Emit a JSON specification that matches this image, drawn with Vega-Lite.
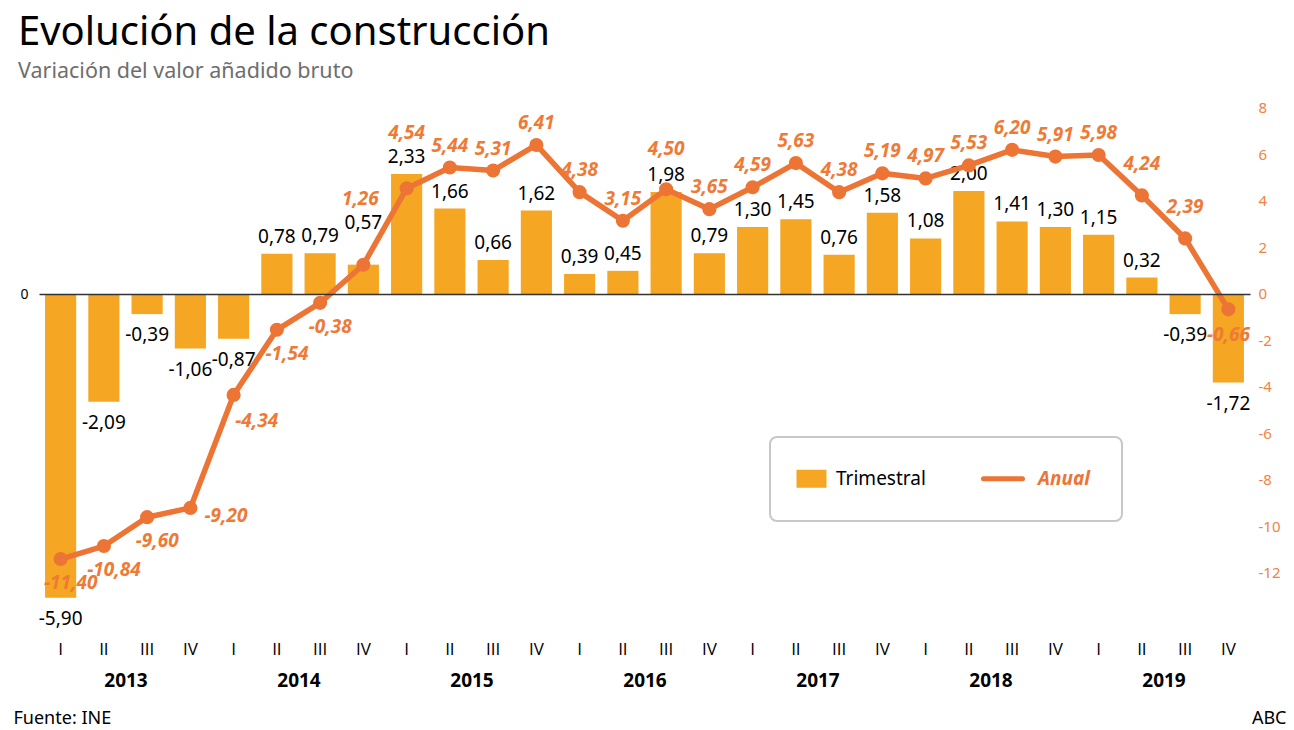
{
  "$schema": "https://vega.github.io/schema/vega-lite/v6.json",
  "width": 1211,
  "height": 535,
  "autosize": {"type": "none"},
  "padding": {"left": 39, "top": 96, "right": 44, "bottom": 99},
  "background": "white",
  "config": {
    "font": "Noto Sans",
    "axis": {"labelFont": "Noto Sans", "titleFont": "Noto Sans"},
    "legend": {"labelFont": "Noto Sans"},
    "view": {"stroke": null},
    "locale": {"number": {"decimal": ",", "thousands": ".", "grouping": [3], "currency": ["", " €"], "minus": "-"}}
  },
  "title": {
    "text": "Evolución de la construcción",
    "subtitle": "Variación del valor añadido bruto",
    "anchor": "start",
    "frame": "group",
    "dx": -21,
    "offset": 14,
    "font": "Noto Sans",
    "subtitleFont": "Noto Sans",
    "fontSize": 40,
    "fontWeight": "normal",
    "color": "#000000",
    "subtitleFontSize": 21.5,
    "subtitleColor": "#6E6E6E",
    "subtitlePadding": 8
  },
  "data": {
    "values": [
      {"periodo": "2013 I", "anio": "2013", "trimestral": -5.90, "anual": -11.40},
      {"periodo": "2013 II", "anio": "2013", "trimestral": -2.09, "anual": -10.84},
      {"periodo": "2013 III", "anio": "2013", "trimestral": -0.39, "anual": -9.60},
      {"periodo": "2013 IV", "anio": "2013", "trimestral": -1.06, "anual": -9.20},
      {"periodo": "2014 I", "anio": "2014", "trimestral": -0.87, "anual": -4.34},
      {"periodo": "2014 II", "anio": "2014", "trimestral": 0.78, "anual": -1.54},
      {"periodo": "2014 III", "anio": "2014", "trimestral": 0.79, "anual": -0.38},
      {"periodo": "2014 IV", "anio": "2014", "trimestral": 0.57, "anual": 1.26},
      {"periodo": "2015 I", "anio": "2015", "trimestral": 2.33, "anual": 4.54},
      {"periodo": "2015 II", "anio": "2015", "trimestral": 1.66, "anual": 5.44},
      {"periodo": "2015 III", "anio": "2015", "trimestral": 0.66, "anual": 5.31},
      {"periodo": "2015 IV", "anio": "2015", "trimestral": 1.62, "anual": 6.41},
      {"periodo": "2016 I", "anio": "2016", "trimestral": 0.39, "anual": 4.38},
      {"periodo": "2016 II", "anio": "2016", "trimestral": 0.45, "anual": 3.15},
      {"periodo": "2016 III", "anio": "2016", "trimestral": 1.98, "anual": 4.50},
      {"periodo": "2016 IV", "anio": "2016", "trimestral": 0.79, "anual": 3.65},
      {"periodo": "2017 I", "anio": "2017", "trimestral": 1.30, "anual": 4.59},
      {"periodo": "2017 II", "anio": "2017", "trimestral": 1.45, "anual": 5.63},
      {"periodo": "2017 III", "anio": "2017", "trimestral": 0.76, "anual": 4.38},
      {"periodo": "2017 IV", "anio": "2017", "trimestral": 1.58, "anual": 5.19},
      {"periodo": "2018 I", "anio": "2018", "trimestral": 1.08, "anual": 4.97},
      {"periodo": "2018 II", "anio": "2018", "trimestral": 2.00, "anual": 5.53},
      {"periodo": "2018 III", "anio": "2018", "trimestral": 1.41, "anual": 6.20},
      {"periodo": "2018 IV", "anio": "2018", "trimestral": 1.30, "anual": 5.91},
      {"periodo": "2019 I", "anio": "2019", "trimestral": 1.15, "anual": 5.98},
      {"periodo": "2019 II", "anio": "2019", "trimestral": 0.32, "anual": 4.24},
      {"periodo": "2019 III", "anio": "2019", "trimestral": -0.39, "anual": 2.39},
      {"periodo": "2019 IV", "anio": "2019", "trimestral": -1.72, "anual": -0.66}
    ]
  },
  "layer": [
    {
      "encoding": {
        "x": {
          "field": "periodo", "type": "ordinal", "sort": null,
          "scale": {"paddingInner": 0.28, "paddingOuter": 0.14},
          "axis": {
            "orient": "bottom", "domain": false, "ticks": false, "tickSize": 0,
            "labelExpr": "split(datum.label, ' ')[1]",
            "labelFont": "Open Sans",
            "labelFontSize": 17, "labelPadding": 10, "labelColor": "#000000",
            "labelAngle": 0, "title": null
          }
        }
      },
      "layer": [
        {
          "encoding": {
            "y": {
              "field": "trimestral", "type": "quantitative",
              "scale": {"domain": [-6.544, 3.845], "nice": false, "zero": false},
              "axis": {
                "orient": "left", "values": [0], "domain": false, "ticks": false,
                "grid": true, "gridColor": "#333333", "gridWidth": 1.5, "zindex": 1,
                "labelFont": "Noto Sans",
                "labelFontSize": 14, "labelPadding": 11, "labelColor": "#000000",
                "title": "Fuente: INE", "titleAngle": 0, "titleX": -26, "titleY": 627,
                "titleAlign": "left", "titleBaseline": "alphabetic", "titleFont": "Noto Sans",
                "titleFontSize": 18, "titleFontWeight": "normal", "titleColor": "#000000"
              }
            }
          },
          "layer": [
            {
              "mark": {"type": "bar"},
              "encoding": {
                "color": {
                  "datum": "Trimestral", "type": "nominal",
                  "scale": {"domain": ["Trimestral", "Anual"], "range": ["#F5A623", "#EC7435"]},
                  "legend": {
                    "orient": "none", "legendX": 731, "legendY": 341,
                    "direction": "horizontal", "columns": 2, "title": null,
                    "symbolSize": 400, "labelFontSize": 19, "labelOffset": 15,
                    "columnPadding": 47, "padding": 32,
                    "fillColor": "#FFFFFF", "strokeColor": "#C8C8C8", "cornerRadius": 7,
                    "labelColor": "#000000",
                    "encode": {
                      "symbols": {"update": {
                        "shape": {"signal": "datum.value === 'Anual' ? 'M-2,0H0.6' : 'M-1,-0.6H1V0.6H-1Z'"},
                        "size": {"value": 900},
                        "fill": {"signal": "datum.value === 'Anual' ? 'transparent' : '#F5A623'"},
                        "stroke": {"signal": "datum.value === 'Anual' ? '#EC7435' : 'transparent'"},
                        "strokeWidth": {"signal": "datum.value === 'Anual' ? 5 : 0"},
                        "strokeCap": {"value": "round"},
                        "opacity": {"value": 1}
                      }},
                      "labels": {"update": {
                        "fill": {"signal": "datum.value === 'Anual' ? '#EC7435' : '#000000'"},
                        "fontStyle": {"signal": "datum.value === 'Anual' ? 'italic' : 'normal'"},
                        "fontWeight": {"signal": "datum.value === 'Anual' ? 'bold' : 'normal'"}
                      }},
                      "legend": {"update": {"strokeWidth": {"value": 2}}}
                    }
                  }
                }
              }
            },
            {
              "transform": [{"filter": "datum.trimestral > 0 && datum.periodo !== '2014 IV'"}],
              "mark": {"type": "text", "fontSize": 19, "color": "#000000", "baseline": "middle", "dy": -17},
              "encoding": {"text": {"field": "trimestral", "type": "quantitative", "format": ".2f"}}
            },
            {
              "transform": [{"filter": "datum.periodo === '2014 IV'"}],
              "mark": {"type": "text", "fontSize": 19, "color": "#000000", "baseline": "middle", "dy": -42},
              "encoding": {"text": {"field": "trimestral", "type": "quantitative", "format": ".2f"}}
            },
            {
              "transform": [{"filter": "datum.trimestral < 0"}],
              "mark": {"type": "text", "fontSize": 19, "color": "#000000", "baseline": "middle", "dy": 21},
              "encoding": {"text": {"field": "trimestral", "type": "quantitative", "format": ".2f"}}
            }
          ]
        },
        {
          "encoding": {
            "y": {
              "field": "anual", "type": "quantitative",
              "scale": {"domain": [-14.495, 8.516], "nice": false, "zero": false},
              "axis": {
                "orient": "right", "values": [-12, -10, -8, -6, -4, -2, 0, 2, 4, 6, 8],
                "domain": false, "ticks": false, "grid": false, "format": "d",
                "labelFont": "Noto Sans",
                "labelColor": "#EF8345", "labelFontSize": 15, "labelAlign": "left", "labelPadding": 8,
                "title": "ABC", "titleAngle": 0, "titleX": 36, "titleY": 627,
                "titleAlign": "right", "titleBaseline": "alphabetic", "titleFont": "Noto Sans",
                "titleFontSize": 18, "titleFontWeight": "normal", "titleColor": "#000000"
              }
            }
          },
          "layer": [
            {
              "mark": {"type": "line", "strokeWidth": 5.5, "strokeJoin": "round"},
              "encoding": {"color": {"datum": "Anual", "type": "nominal"}}
            },
            {
              "mark": {"type": "circle", "size": 200, "opacity": 1, "color": "#EC7435"}
            },
            {
              "transform": [{"filter": {"field": "periodo", "oneOf": ["2015 II", "2015 III", "2015 IV", "2016 I", "2016 II", "2016 IV", "2017 I", "2017 II", "2017 III", "2017 IV", "2018 I", "2018 II", "2018 III", "2018 IV", "2019 I"]}}],
              "mark": {"type": "text", "fontSize": 19, "fontWeight": "bold", "fontStyle": "italic", "color": "#EE7A35", "baseline": "middle", "dy": -22},
              "encoding": {"text": {"field": "anual", "type": "quantitative", "format": ".2f"}}
            },
            {
              "transform": [{"filter": {"field": "periodo", "oneOf": ["2019 II", "2019 III"]}}],
              "mark": {"type": "text", "fontSize": 19, "fontWeight": "bold", "fontStyle": "italic", "color": "#EE7A35", "baseline": "middle", "dy": -31},
              "encoding": {"text": {"field": "anual", "type": "quantitative", "format": ".2f"}}
            },
            {
              "transform": [{"filter": {"field": "periodo", "oneOf": ["2016 III"]}}],
              "mark": {"type": "text", "fontSize": 19, "fontWeight": "bold", "fontStyle": "italic", "color": "#EE7A35", "baseline": "middle", "dy": -40},
              "encoding": {"text": {"field": "anual", "type": "quantitative", "format": ".2f"}}
            },
            {
              "transform": [{"filter": {"field": "periodo", "oneOf": ["2015 I"]}}],
              "mark": {"type": "text", "fontSize": 19, "fontWeight": "bold", "fontStyle": "italic", "color": "#EE7A35", "baseline": "middle", "dy": -55},
              "encoding": {"text": {"field": "anual", "type": "quantitative", "format": ".2f"}}
            },
            {
              "transform": [{"filter": {"field": "periodo", "oneOf": ["2014 IV"]}}],
              "mark": {"type": "text", "fontSize": 19, "fontWeight": "bold", "fontStyle": "italic", "color": "#EE7A35", "baseline": "middle", "dy": -66, "dx": -3},
              "encoding": {"text": {"field": "anual", "type": "quantitative", "format": ".2f"}}
            },
            {
              "transform": [{"filter": {"field": "periodo", "oneOf": ["2013 I", "2013 II", "2013 III", "2014 II", "2014 III"]}}],
              "mark": {"type": "text", "fontSize": 19, "fontWeight": "bold", "fontStyle": "italic", "color": "#EE7A35", "baseline": "middle", "dy": 24, "dx": 10},
              "encoding": {"text": {"field": "anual", "type": "quantitative", "format": ".2f"}}
            },
            {
              "transform": [{"filter": {"field": "periodo", "oneOf": ["2014 I"]}}],
              "mark": {"type": "text", "fontSize": 19, "fontWeight": "bold", "fontStyle": "italic", "color": "#EE7A35", "baseline": "middle", "dy": 26, "dx": 23},
              "encoding": {"text": {"field": "anual", "type": "quantitative", "format": ".2f"}}
            },
            {
              "transform": [{"filter": {"field": "periodo", "oneOf": ["2019 IV"]}}],
              "mark": {"type": "text", "fontSize": 19, "fontWeight": "bold", "fontStyle": "italic", "color": "#EE7A35", "baseline": "middle", "dy": 26, "dx": 0},
              "encoding": {"text": {"field": "anual", "type": "quantitative", "format": ".2f"}}
            },
            {
              "transform": [{"filter": {"field": "periodo", "oneOf": ["2013 IV"]}}],
              "mark": {"type": "text", "fontSize": 19, "fontWeight": "bold", "fontStyle": "italic", "color": "#EE7A35", "baseline": "middle", "align": "left", "dy": 8, "dx": 14},
              "encoding": {"text": {"field": "anual", "type": "quantitative", "format": ".2f"}}
            }
          ]
        }
      ],
      "resolve": {"scale": {"y": "independent"}, "axis": {"y": "independent"}}
    },
    {
      "mark": {"type": "point", "opacity": 0},
      "encoding": {
        "x": {
          "field": "anio", "type": "ordinal",
          "scale": {"type": "point", "padding": 0.5},
          "axis": {
            "orient": "bottom", "domain": false, "ticks": false, "tickSize": 0,
            "labelFont": "Noto Sans",
            "labelFontWeight": "bold", "labelFontSize": 19, "labelPadding": 40,
            "labelColor": "#000000", "labelAngle": 0, "title": null
          }
        }
      }
    }
  ],
  "resolve": {"scale": {"x": "independent"}, "axis": {"x": "independent"}}
}
